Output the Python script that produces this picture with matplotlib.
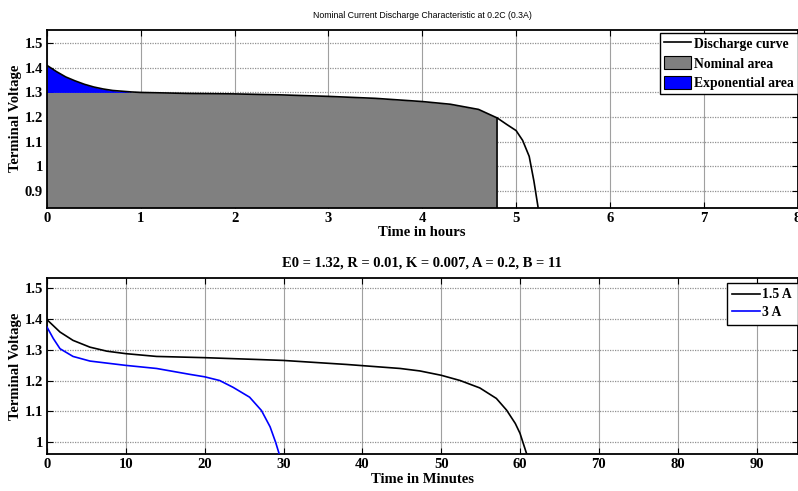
import numpy as np
import matplotlib
matplotlib.use('Agg')
import matplotlib.pyplot as plt
from matplotlib.patches import Patch
from matplotlib.lines import Line2D

# Nominal discharge at 0.2C (0.3A), time in hours
hours = [0.0, 0.1, 0.2, 0.3, 0.4, 0.5, 0.6, 0.7, 0.8, 0.9, 1.0, 1.5, 2.0,
         2.5, 3.0, 3.5, 4.0, 4.3, 4.6, 4.8, 4.9, 5.0, 5.07, 5.14, 5.19, 5.24]
volts = [1.41, 1.385, 1.363, 1.347, 1.333, 1.322, 1.314, 1.308, 1.305,
         1.302, 1.300, 1.296, 1.294, 1.290, 1.284, 1.276, 1.263, 1.252,
         1.231, 1.196, 1.170, 1.145, 1.105, 1.04, 0.94, 0.82]
nominal_voltage = 1.3
nominal_end = 4.8

# Discharge at 1.5 A and 3 A, time in minutes
min_15 = [0.0, 1.65, 3.3, 5.45, 7.6, 10.0, 13.9, 20.0, 26.8, 30.0, 38.0,
          44.8, 47.3, 50.0, 52.4, 54.9, 57.0, 58.3, 59.4, 60.0, 61.0]
v_15 = [1.397, 1.357, 1.330, 1.308, 1.295, 1.287, 1.278, 1.274, 1.268,
        1.265, 1.252, 1.239, 1.231, 1.217, 1.200, 1.176, 1.142, 1.104,
        1.061, 1.029, 0.95]
min_3 = [0.0, 0.8, 1.65, 3.3, 5.45, 10.0, 13.9, 18.1, 20.0, 21.9, 23.6,
         25.7, 27.2, 28.3, 29.0, 29.6]
v_3 = [1.373, 1.336, 1.303, 1.278, 1.263, 1.249, 1.239, 1.220, 1.212,
       1.200, 1.178, 1.146, 1.103, 1.050, 1.000, 0.95]

serif = 'Liberation Serif'
fs = 10.5
leg_fs = 9.8


def style_axes(ax, xticks, yticks, ylabels):
    ax.set_xticks(xticks)
    ax.set_xticklabels([str(x) for x in xticks])
    ax.set_yticks(yticks)
    ax.set_yticklabels(ylabels)
    for lab in ax.get_xticklabels() + ax.get_yticklabels():
        lab.set_fontfamily(serif)
        lab.set_fontweight('bold')
        lab.set_fontsize(fs)
    ax.tick_params(which='both', direction='in', top=True, right=True,
                   length=4, width=0.8, pad=3)
    for sp in ax.spines.values():
        sp.set_linewidth(1.3)
    # grid: solid vertical, dotted horizontal
    ax.grid(False)
    for x in xticks:
        ax.axvline(x, color='#a0a0a0', lw=0.8, zorder=0.5)
    for y in yticks:
        ax.axhline(y, color='#909090', lw=0.9, ls=(0, (1, 1)), zorder=0.5)
    ax.set_axisbelow(True)


fig = plt.figure(figsize=(7.98, 4.91), dpi=100)

# ---- top panel ----
ax1 = fig.add_axes([47 / 798, 1 - 207.5 / 491, 750.5 / 798, 177.5 / 491])
t = np.array(hours)
v = np.array(volts)
ylo1, yhi1 = 0.832, 1.554
nom = t <= nominal_end
ax1.fill_between(t[nom], ylo1, np.minimum(v[nom], nominal_voltage),
                 color='#808080', lw=0, zorder=1)
ax1.fill_between(t, nominal_voltage, v, where=v > nominal_voltage,
                 color='#0000ff', lw=0, zorder=1)
ax1.plot([nominal_end, nominal_end], [ylo1, v[t == nominal_end][0]],
         color='k', lw=1.1, zorder=2)
ax1.plot(t, v, color='k', lw=1.2, zorder=3)
ax1.set_xlim(0, 8)
ax1.set_ylim(ylo1, yhi1)
style_axes(ax1, list(range(0, 9)),
           [0.9, 1.0, 1.1, 1.2, 1.3, 1.4, 1.5],
           ['0.9', '1', '1.1', '1.2', '1.3', '1.4', '1.5'])
ax1.set_xlabel('Time in hours', fontfamily=serif, fontweight='bold',
               fontsize=fs, labelpad=1)
ax1.set_ylabel('Terminal Voltage', fontfamily=serif, fontweight='bold',
               fontsize=fs, labelpad=2)
ax1.set_title('Nominal Current Discharge Characteristic at 0.2C (0.3A)',
              fontfamily='Liberation Sans', fontsize=6.3, pad=9)
handles1 = [Line2D([], [], color='k', lw=1.2),
            Patch(facecolor='#808080', edgecolor='k', lw=0.8),
            Patch(facecolor='#0000ff', edgecolor='k', lw=0.8)]
leg1 = ax1.legend(handles1, ['Discharge curve', 'Nominal area',
                             'Exponential area'],
                  loc='upper right', bbox_to_anchor=(1.0, 0.985),
                  borderaxespad=0, fancybox=False, framealpha=1,
                  edgecolor='k', handlelength=2.0, handleheight=1.1,
                  handletextpad=0.2, borderpad=0.3, labelspacing=0.4,
                  prop={'family': serif, 'weight': 'bold', 'size': leg_fs})
leg1.get_frame().set_linewidth(1.0)

# ---- bottom panel ----
ax2 = fig.add_axes([47 / 798, 1 - 454 / 491, 750.5 / 798, 176.3 / 491])
ax2.plot(min_15, v_15, color='k', lw=1.2, label='1.5 A', zorder=3)
ax2.plot(min_3, v_3, color='#0000ff', lw=1.2, label='3 A', zorder=3)
ax2.set_xlim(0, 95.2)
ax2.set_ylim(0.962, 1.533)
style_axes(ax2, list(range(0, 100, 10)),
           [1.0, 1.1, 1.2, 1.3, 1.4, 1.5],
           ['1', '1.1', '1.2', '1.3', '1.4', '1.5'])
ax2.set_xlabel('Time in Minutes', fontfamily=serif, fontweight='bold',
               fontsize=fs, labelpad=1)
ax2.set_ylabel('Terminal Voltage', fontfamily=serif, fontweight='bold',
               fontsize=fs, labelpad=2)
ax2.set_title('E0 = 1.32, R = 0.01, K = 0.007, A = 0.2, B = 11',
              fontfamily=serif, fontweight='bold', fontsize=fs, pad=8)
leg2 = ax2.legend(loc='upper right', bbox_to_anchor=(1.0, 0.97),
                  borderaxespad=0, fancybox=False, framealpha=1,
                  edgecolor='k', handlelength=2.0, handletextpad=0.2,
                  borderpad=0.4, labelspacing=0.35,
                  prop={'family': serif, 'weight': 'bold', 'size': leg_fs})
leg2.get_frame().set_linewidth(1.0)

fig.savefig('out.png', dpi=100)
